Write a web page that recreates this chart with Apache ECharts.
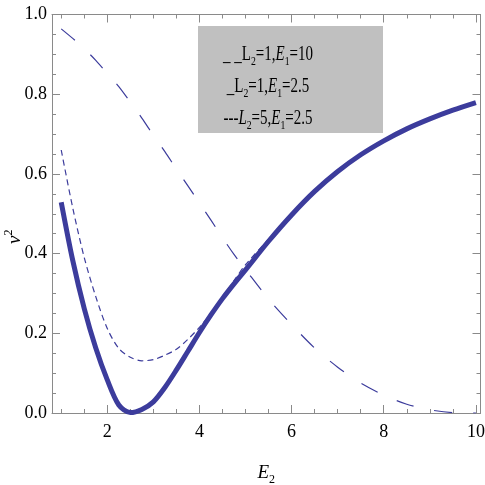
<!DOCTYPE html>
<html>
<head>
<meta charset="utf-8">
<script src="https://cdn.jsdelivr.net/npm/echarts@6/dist/echarts.min.js"></script>
<style>
html, body { margin: 0; padding: 0; background: #fff; }
#chart { width: 485px; height: 485px; }
</style>
</head>
<body>
<div id="chart"></div>
<script>
// E2 sample points
var e2 = [1, 1.25, 1.5, 1.75, 2, 2.25, 2.5, 2.75, 3, 3.25, 3.5, 3.75, 4, 4.25, 4.5, 4.75, 5,
  5.5, 6, 6.5, 7, 7.5, 8, 8.5, 9, 9.5, 10];
// thick solid curve
var thickV = [0.529, 0.383, 0.262, 0.163, 0.083, 0.02, 0.001, 0.009, 0.028, 0.064, 0.108, 0.155, 0.202,
  0.246, 0.287, 0.324, 0.359, 0.431, 0.497, 0.556, 0.606, 0.648, 0.683, 0.713, 0.738, 0.76, 0.779];
// thin short-dash curve
var shortDashV = [0.66, 0.515, 0.39, 0.292, 0.212, 0.162, 0.14, 0.131, 0.134, 0.145, 0.16, 0.185, 0.215,
  0.25, 0.29, 0.332, 0.372, 0.436, 0.499, 0.558, 0.608, 0.65, 0.685, 0.715, 0.74, 0.762, 0.781];
// long-dash curve
var longDashV = [0.964, 0.94, 0.914, 0.885, 0.852, 0.819, 0.78, 0.74, 0.697, 0.656, 0.612, 0.57, 0.527,
  0.484, 0.44, 0.398, 0.36, 0.286, 0.222, 0.163, 0.115, 0.075, 0.045, 0.022, 0.008, 0.001, 0];

var xMajor = [2, 4, 6, 8, 10];
var xMinor = [1, 1.5, 2.5, 3, 3.5, 4.5, 5, 5.5, 6.5, 7, 7.5, 8.5, 9, 9.5];

var legendLines = [
  '{n|_ _L}{s|2}{n|=1,}{i|E}{s|1}{n|=10}',
  '{n|_L}{s|2}{n|=1,}{i|E}{s|1}{n|=2.5}',
  '{n|---}{i|L}{s|2}{n|=5,}{i|E}{s|1}{n|=2.5}'
];

var lineColor = '#3c3c9c';
var frameColor = '#8a8a8a';
var serif = 'Liberation Serif';

function pairs(ys) {
  return e2.map(function (x, i) { return [x, ys[i]]; });
}

// x axes: major + minor ticks, bottom + top
function xAx(pos, ticks, len, withLine, withLabel) {
  var a = {
    type: 'value', min: 0.8, max: 10.1, position: pos,
    axisLine: { show: withLine, lineStyle: { color: frameColor, width: 1 } },
    axisTick: { show: true, inside: true, length: len, customValues: ticks, lineStyle: { color: frameColor } },
    axisLabel: { show: withLabel, customValues: ticks, margin: 10, color: '#000', fontFamily: serif, fontSize: 18 },
    splitLine: { show: false }
  };
  if (withLabel) {
    a.name = '{i|E}{s|2}';
    a.nameLocation = 'middle';
    a.nameGap = 47;
    a.nameMoveOverlap = false;
    a.nameTextStyle = {
      rich: {
        i: { fontFamily: serif, fontStyle: 'italic', fontSize: 19, color: '#000', lineHeight: 26 },
        s: { fontFamily: serif, fontSize: 12, color: '#000', lineHeight: 12, verticalAlign: 'bottom' }
      }
    };
  }
  return a;
}

function yAx(pos, withLabel) {
  var a = {
    type: 'value', min: 0, max: 1, interval: 0.2, position: pos,
    axisLine: { show: true, lineStyle: { color: frameColor, width: 1 } },
    axisTick: { show: true, inside: true, length: 8, lineStyle: { color: frameColor } },
    minorTick: { show: true, splitNumber: 4, length: 4, lineStyle: { color: frameColor } },
    axisLabel: {
      show: withLabel, margin: 5, color: '#000', fontFamily: serif, fontSize: 18,
      formatter: function (v) { return v.toFixed(1); }
    },
    splitLine: { show: false }
  };
  if (withLabel) {
    a.name = '{i|ν}{s|2}';
    a.nameLocation = 'middle';
    a.nameGap = 25;
    a.nameRotate = 90;
    a.nameMoveOverlap = false;
    // push the label a bit below the middle, like the original
    a.nameTextStyle = {
      padding: [0, 46, 0, 0],
      rich: {
        i: { fontFamily: serif, fontStyle: 'italic', fontSize: 19, color: '#000', lineHeight: 24 },
        s: { fontFamily: serif, fontSize: 12, color: '#000', lineHeight: 12, verticalAlign: 'top' }
      }
    };
  }
  return a;
}

var richLegend = {
  n: { fontFamily: serif, fontSize: 20, fill: '#000', lineHeight: 26 },
  i: { fontFamily: serif, fontStyle: 'italic', fontSize: 20, fill: '#000', lineHeight: 26 },
  s: { fontFamily: serif, fontSize: 13, fill: '#000', lineHeight: 12, verticalAlign: 'bottom' }
};

var legendGraphic = [{
  type: 'rect', left: 198, top: 26, shape: { width: 185, height: 107 },
  style: { fill: '#c0c0c0' }
}];
legendLines.forEach(function (t, i) {
  legendGraphic.push({
    type: 'text', x: 268, y: 55 + i * 32, scaleX: 0.75,
    style: { text: t, rich: richLegend, align: 'center', verticalAlign: 'middle' }
  });
});

var myChart = echarts.init(document.getElementById('chart'));
myChart.setOption({
  animation: false,
  backgroundColor: '#fff',
  grid: { left: 52, right: 4.5, top: 14.5, bottom: 72, outerBoundsMode: 'none' },
  xAxis: [
    xAx('bottom', xMajor, 8, true, true),
    xAx('bottom', xMinor, 4, false, false),
    xAx('top', xMajor, 8, true, false),
    xAx('top', xMinor, 4, false, false)
  ],
  yAxis: [yAx('left', true), yAx('right', false)],
  graphic: legendGraphic,
  series: [
    {
      type: 'line', data: pairs(shortDashV), showSymbol: false, smooth: 0.3,
      lineStyle: { color: lineColor, width: 1.2, type: [6, 4] }
    },
    {
      type: 'line', data: pairs(longDashV), showSymbol: false, smooth: 0.3,
      lineStyle: { color: lineColor, width: 1.2, type: [18, 21] }
    },
    {
      type: 'line', data: pairs(thickV), showSymbol: false, smooth: 0.3,
      lineStyle: { color: lineColor, width: 5 }
    }
  ]
});
</script>
</body>
</html>
